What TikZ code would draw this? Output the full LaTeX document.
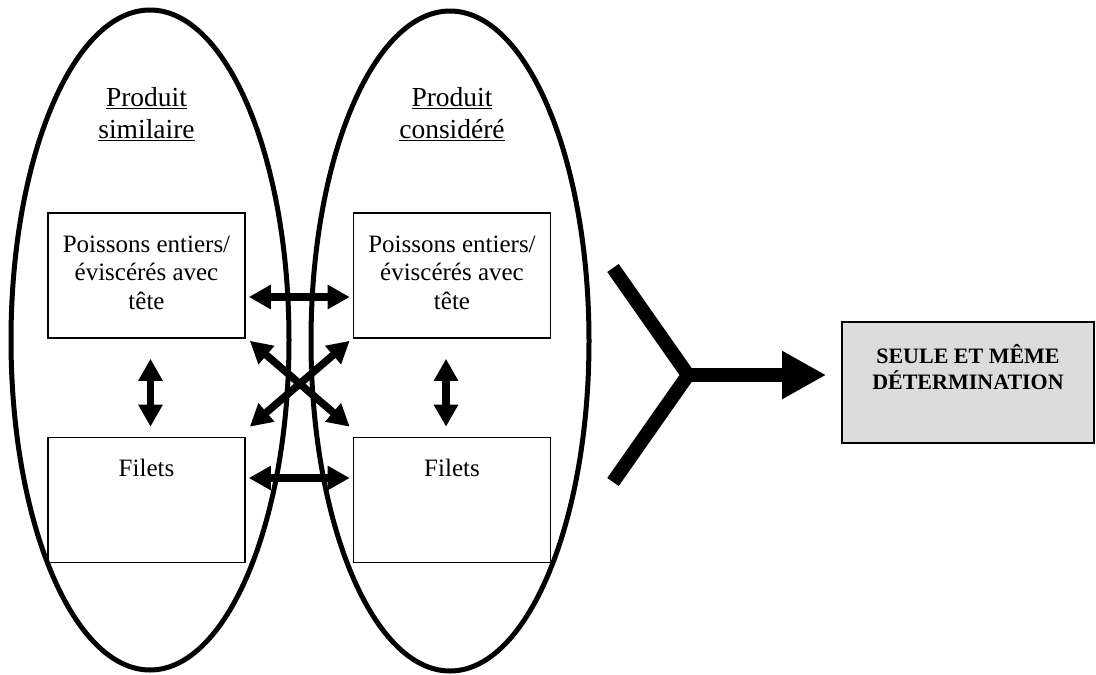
\documentclass[tikz,border=0pt]{standalone}
\usepackage{xcolor}
\usepackage{fontspec}
\setmainfont{Liberation Serif}
\usetikzlibrary{arrows.meta,shapes.geometric}
\definecolor{grisclair}{RGB}{220,220,220}

\begin{document}
\begin{tikzpicture}[x=1pt,y=-1pt,
  bulle/.style={draw,ellipse,line width=5pt,minimum width=278pt,minimum height=660pt,inner sep=0pt},
  cadre/.style={draw,line width=1.6pt,minimum width=197pt,minimum height=125pt,inner sep=0pt},
  grisbox/.style={draw,fill=grisclair,line width=1.6pt,minimum width=252pt,minimum height=121pt,inner sep=0pt},
  texte/.style={align=center,inner sep=0pt,font=\fontsize{25}{28.5}\selectfont},
  titre/.style={align=center,inner sep=0pt,font=\fontsize{27.5}{32}\selectfont},
  gras/.style={align=center,inner sep=0pt,font=\fontsize{22}{26}\selectfont\bfseries},
  liaison/.style={line width=7.5pt,{Triangle[length=22pt,width=23pt]}-{Triangle[length=22pt,width=23pt]}},
  fourche/.style={line width=14pt}]
\useasboundingbox (0,0) rectangle (1096,675);
\node[bulle] (similaire) at (150,340) {};
\node[bulle] (considere) at (450,341) {};
\node[titre, anchor=north] (tsim) at (146.5,60) {\rule{0pt}{46pt}\underline{Produit}\\\underline{similaire}};
\node[titre, anchor=north] (tcon) at (452,60) {\rule{0pt}{46pt}\underline{Produit}\\\underline{considéré}};
\node[cadre] (psim) at (146.5,275.5) {};
\node[cadre] (fsim) at (146.5,500) {};
\node[cadre] (pcon) at (452,275.5) {};
\node[cadre] (fcon) at (452,500) {};
\node[texte, anchor=north] (tpsim) at (psim.north) {\rule{0pt}{40pt}Poissons entiers/\\éviscérés avec\\tête};
\node[texte, anchor=north] (tpcon) at (pcon.north) {\rule{0pt}{40pt}Poissons entiers/\\éviscérés avec\\tête};
\node[texte, anchor=north] (tfsim) at (fsim.north) {\rule{0pt}{40pt}Filets};
\node[texte, anchor=north] (tfcon) at (fcon.north) {\rule{0pt}{40pt}Filets};
\draw[liaison, shorten <=3pt, shorten >=3pt] ([yshift=-21.5pt]psim.east) -- ([yshift=-21.5pt]pcon.west);
\draw[liaison, shorten <=3pt, shorten >=3pt] ([yshift=22pt]fsim.east) -- ([yshift=22pt]fcon.west);
\draw[liaison, shorten <=20pt, shorten >=10pt] ([xshift=4pt]psim.south) -- ([xshift=4pt]fsim.north);
\draw[liaison, shorten <=20pt, shorten >=10pt] ([xshift=-6pt]pcon.south) -- ([xshift=-6pt]fcon.north);
\draw[liaison] ([xshift=4pt,yshift=-2pt]psim.south east) -- ([xshift=-3pt,yshift=10pt]fcon.north west);
\draw[liaison] ([xshift=-3pt,yshift=-2pt]pcon.south west) -- ([xshift=4pt,yshift=10pt]fsim.north east);
\node[grisbox] (det) at (968,382.5) {};
\node[gras, anchor=north] (tdet) at (det.north) {\rule{0pt}{42pt}SEULE ET MÊME\\DÉTERMINATION};
\coordinate (brasA) at (613,268);
\coordinate (brasB) at (613,482);
\coordinate (jonction) at (688,375);
\draw[fourche] (brasA) -- (jonction) -- (brasB);
\draw[fourche, -{Triangle[length=44pt,width=45pt]}, shorten >=15pt] (jonction) -- (jonction -| det.west);
\end{tikzpicture}
\end{document}
